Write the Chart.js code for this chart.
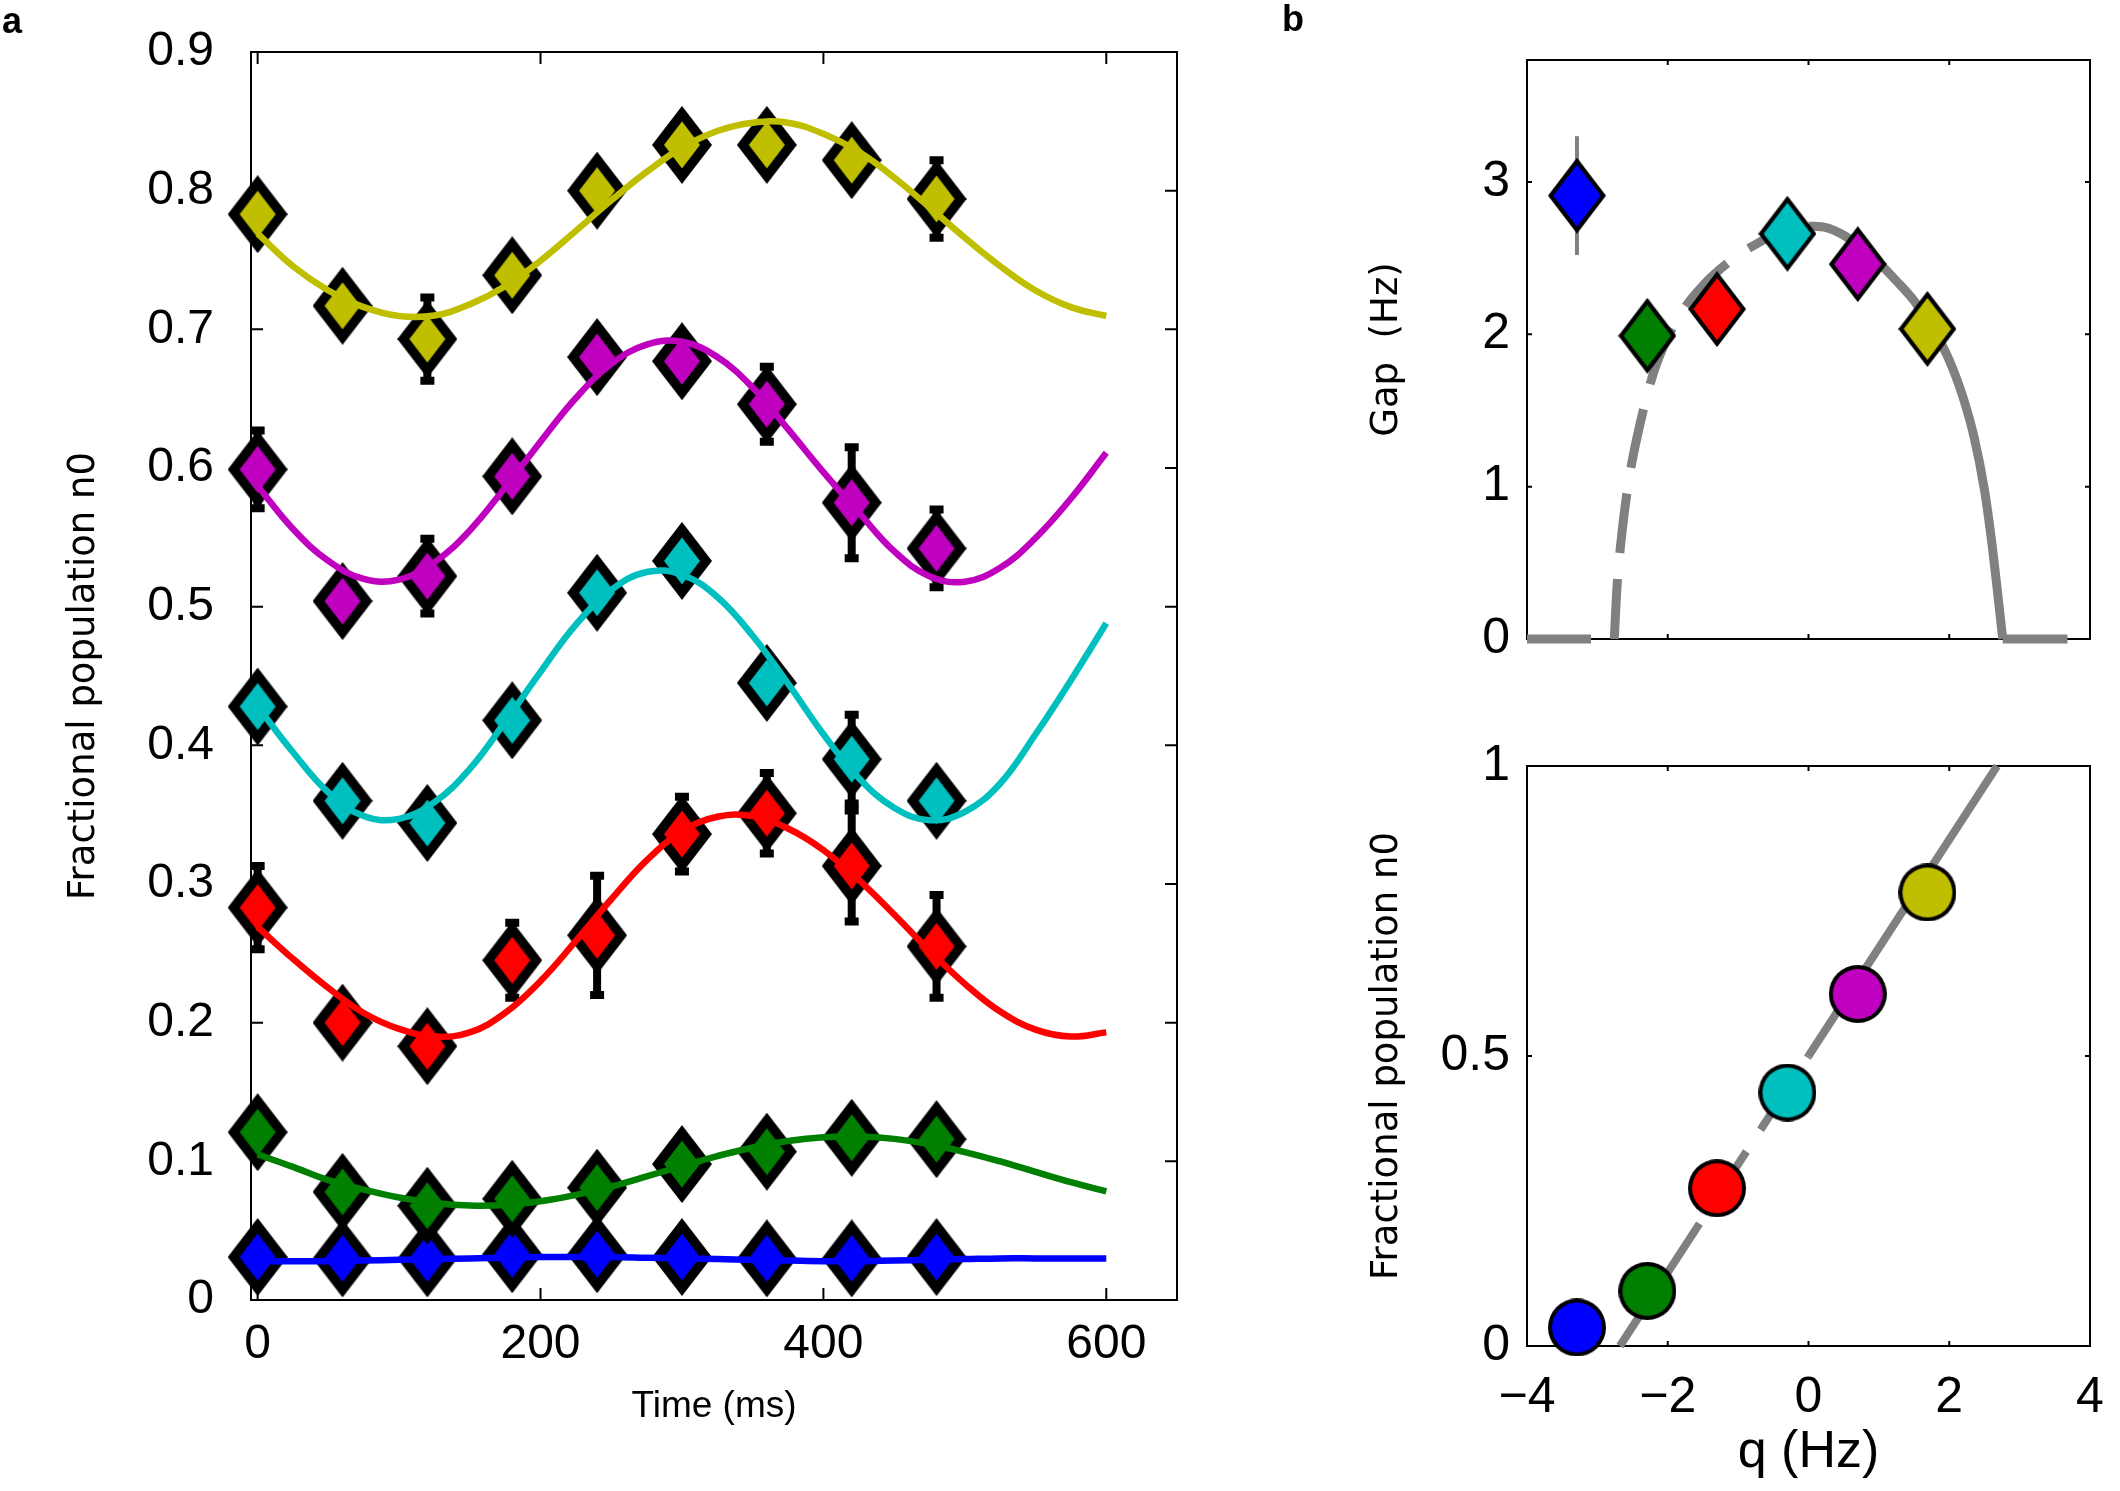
<!DOCTYPE html>
<html><head><meta charset="utf-8">
<script src="https://cdn.jsdelivr.net/npm/chart.js@4.4.1/dist/chart.umd.min.js"></script>
<style>
html,body{margin:0;padding:0;background:#fff;}
#wrap{position:relative;width:2120px;height:1491px;overflow:hidden;background:#fff;}
canvas{position:absolute;}
.lab{position:absolute;font-family:"Liberation Sans",Arial,sans-serif;font-weight:bold;font-size:36px;line-height:1;color:#000;}
</style></head><body>
<div id="wrap">
<canvas id="ca" width="1250" height="1491" style="left:0;top:0"></canvas>
<canvas id="cb1" width="840" height="700" style="left:1280px;top:0"></canvas>
<canvas id="cb2" width="840" height="791" style="left:1280px;top:700px"></canvas>
<div class="lab" style="left:2px;top:3px">a</div>
<div class="lab" style="left:1282px;top:1px">b</div>
</div>
<script>
// ---------- Panel a data ----------
const timeMs = [0, 60, 120, 180, 240, 300, 360, 420, 480];
const n0Yellow  = [0.783, 0.717, 0.693, 0.739, 0.800, 0.833, 0.833, 0.822, 0.794];
const n0Magenta = [0.599, 0.504, 0.522, 0.594, 0.680, 0.677, 0.646, 0.575, 0.542];
const n0Cyan    = [0.428, 0.360, 0.344, 0.418, 0.510, 0.533, 0.445, 0.390, 0.360];
const n0Red     = [0.283, 0.200, 0.183, 0.245, 0.263, 0.336, 0.351, 0.313, 0.255];
const n0Green   = [0.121, 0.078, 0.068, 0.073, 0.081, 0.098, 0.107, 0.117, 0.116];
const n0Blue    = [0.031, 0.030, 0.030, 0.033, 0.033, 0.031, 0.030, 0.030, 0.031];

const errYellow  = [0.015, 0.015, 0.030, 0.015, 0.015, 0.015, 0.015, 0.015, 0.028];
const errMagenta = [0.028, 0.015, 0.027, 0.015, 0.015, 0.015, 0.027, 0.040, 0.028];
const errCyan    = [0.015, 0.015, 0.015, 0.015, 0.015, 0.015, 0.015, 0.032, 0.015];
const errRed     = [0.030, 0.015, 0.015, 0.027, 0.043, 0.027, 0.029, 0.040, 0.037];
const errGreen   = [0.012, 0.012, 0.012, 0.012, 0.012, 0.012, 0.012, 0.012, 0.012];
const errBlue    = [0.008, 0.008, 0.008, 0.008, 0.008, 0.008, 0.008, 0.008, 0.008];

const fitTimeMs = [0, 25, 50, 75, 100, 125, 150, 175, 200, 225, 250, 275, 300, 325, 350, 375, 400, 425, 450, 475, 500, 525, 550, 575, 600];
const fitYellow  = [0.769, 0.7455, 0.728, 0.716, 0.7096, 0.710, 0.718, 0.731, 0.7495, 0.771, 0.793, 0.8135, 0.831, 0.843, 0.849, 0.849, 0.841, 0.828, 0.8095, 0.788, 0.766, 0.7455, 0.728, 0.716, 0.7096];
const fitMagenta = [0.587, 0.556, 0.533, 0.520, 0.5195, 0.532, 0.555, 0.586, 0.619, 0.6505, 0.675, 0.689, 0.691, 0.680, 0.658, 0.628, 0.597, 0.568, 0.540, 0.522, 0.518, 0.528, 0.5495, 0.578, 0.611];
const fitCyan    = [0.428, 0.395, 0.366, 0.349, 0.347, 0.359, 0.383, 0.417, 0.453, 0.487, 0.512, 0.525, 0.523, 0.507, 0.479, 0.4445, 0.408, 0.3765, 0.355, 0.346, 0.352, 0.3725, 0.408, 0.447, 0.488];
const fitRed     = [0.269, 0.246, 0.225, 0.207, 0.1955, 0.190, 0.193, 0.207, 0.230, 0.259, 0.289, 0.317, 0.338, 0.3485, 0.349, 0.340, 0.3245, 0.303, 0.278, 0.252, 0.228, 0.208, 0.195, 0.190, 0.193];
const fitGreen   = [0.105, 0.096, 0.0864, 0.0796, 0.0739, 0.070, 0.0681, 0.0685, 0.0712, 0.0758, 0.0819, 0.0891, 0.0966, 0.1038, 0.110, 0.1147, 0.1174, 0.1179, 0.1162, 0.1123, 0.1067, 0.0999, 0.0924, 0.085, 0.0783];
const fitBlue    = [0.028, 0.028, 0.028, 0.0285, 0.029, 0.0295, 0.030, 0.0305, 0.031, 0.031, 0.031, 0.0305, 0.030, 0.0295, 0.029, 0.0285, 0.028, 0.028, 0.0285, 0.029, 0.0295, 0.030, 0.030, 0.030, 0.030];

const timeTicks = [0, 200, 400, 600];
const timeTickLabels = ['0', '200', '400', '600'];
const n0Ticks = [0, 0.1, 0.2, 0.3, 0.4, 0.5, 0.6, 0.7, 0.8, 0.9];
const n0TickLabels = ['0', '0.1', '0.2', '0.3', '0.4', '0.5', '0.6', '0.7', '0.8', '0.9'];

// ---------- Panel b data ----------
const qHz      = [-3.29, -2.29, -1.30, -0.30, 0.70, 1.69];
const gapHz    = [2.91, 1.99, 2.165, 2.66, 2.46, 2.035];
const gapErrHz = [0.39, 0, 0, 0, 0, 0];
const n0VsQ    = [0.032, 0.095, 0.272, 0.437, 0.607, 0.782];

const gapFlatLeftQ = [-4, -2.76];
const gapFlatLeftV = [0, 0];
const gapRiseQ = [-2.76, -2.72, -2.65, -2.55, -2.4, -2.2, -2.0, -1.75, -1.5, -1.25, -1.0, -0.75, -0.5, -0.25, 0];
const gapRiseV = [0, 0.35, 0.70, 1.05, 1.40, 1.75, 1.98, 2.18, 2.32, 2.43, 2.52, 2.59, 2.65, 2.69, 2.71];
const gapFallQ = [0, 0.25, 0.5, 0.75, 1.0, 1.25, 1.5, 1.75, 2.0, 2.2, 2.35, 2.5, 2.6, 2.7, 2.76];
const gapFallV = [2.71, 2.70, 2.65, 2.57, 2.47, 2.35, 2.22, 2.05, 1.83, 1.58, 1.33, 0.98, 0.65, 0.25, 0];
const gapFlatRightQ = [2.76, 3.68];
const gapFlatRightV = [0, 0];

const n0LineDashQ = [-2.68, 0];
const n0LineDashV = [0, 0.5];
const n0LineSolidQ = [0, 2.68];
const n0LineSolidV = [0.5, 1];

const qTicks = [-4, -2, 0, 2, 4];
const qTickLabels = ['\u22124', '\u22122', '0', '2', '4'];
const gapTicks = [0, 1, 2, 3];
const gapTickLabels = ['0', '1', '2', '3'];
const n0bTicks = [0, 0.5, 1];
const n0bTickLabels = ['0', '0.5', '1'];

const colYellow = '#BFBF00', colMagenta = '#BF00BF', colCyan = '#00BFBF',
      colRed = '#FF0000', colGreen = '#007F00', colBlue = '#0000FF', colGray = '#808080';
const seriesColorsB = [colBlue, colGreen, colRed, colCyan, colMagenta, colYellow];

// ---------- helpers ----------
const pts = (xs, ys) => xs.map((x, i) => ({x: x, y: ys[i]}));

function diamondImg(color, w, h, border) {
  const c = document.createElement('canvas'); c.width = w; c.height = h;
  const g = c.getContext('2d');
  const a = w / 2, b = h / 2, d = Math.hypot(a, b);
  g.fillStyle = '#000';
  g.beginPath(); g.moveTo(a, 0); g.lineTo(w, b); g.lineTo(a, h); g.lineTo(0, b); g.closePath(); g.fill();
  const ai = a - border * d / b, bi = b - border * d / a;
  g.fillStyle = color;
  g.beginPath(); g.moveTo(a, b - bi); g.lineTo(a + ai, b); g.lineTo(a, b + bi); g.lineTo(a - ai, b); g.closePath(); g.fill();
  return c;
}
function circleImg(color, dia, border) {
  const c = document.createElement('canvas'); c.width = dia; c.height = dia;
  const g = c.getContext('2d');
  g.fillStyle = '#000'; g.beginPath(); g.arc(dia / 2, dia / 2, dia / 2, 0, Math.PI * 2); g.fill();
  g.fillStyle = color; g.beginPath(); g.arc(dia / 2, dia / 2, dia / 2 - border, 0, Math.PI * 2); g.fill();
  return c;
}

function makeFrame(tickLen, lw) {
  return {
    id: 'frameTicks',
    beforeDatasetsDraw(chart) {
      const {ctx, chartArea: a, scales} = chart;
      const x = scales.x, y = scales.y;
      ctx.save();
      ctx.strokeStyle = '#000'; ctx.lineWidth = lw; ctx.lineCap = 'butt';
      ctx.strokeRect(a.left, a.top, a.right - a.left, a.bottom - a.top);
      ctx.beginPath();
      x.ticks.forEach(t => {
        const p = x.getPixelForValue(t.value);
        if (p <= a.left + 1 || p >= a.right - 1) return;
        ctx.moveTo(p, a.bottom); ctx.lineTo(p, a.bottom - tickLen);
        ctx.moveTo(p, a.top); ctx.lineTo(p, a.top + tickLen);
      });
      y.ticks.forEach(t => {
        const p = y.getPixelForValue(t.value);
        if (p <= a.top + 1 || p >= a.bottom - 1) return;
        ctx.moveTo(a.left, p); ctx.lineTo(a.left + tickLen, p);
        ctx.moveTo(a.right, p); ctx.lineTo(a.right - tickLen, p);
      });
      ctx.stroke();
      ctx.restore();
    }
  };
}

function makeErrBars(sets, color, lw, cap) {
  return {
    id: 'errBars',
    beforeDatasetsDraw(chart) {
      const {ctx, scales} = chart;
      const x = scales.x, y = scales.y;
      ctx.save();
      ctx.strokeStyle = color; ctx.lineWidth = lw; ctx.lineCap = 'butt';
      sets.forEach(s => s.xs.forEach((xv, i) => {
        const e = s.err[i];
        if (!e) return;
        const px = x.getPixelForValue(xv);
        const p1 = y.getPixelForValue(s.ys[i] - e), p2 = y.getPixelForValue(s.ys[i] + e);
        ctx.beginPath(); ctx.moveTo(px, p1); ctx.lineTo(px, p2);
        if (cap) { ctx.moveTo(px - cap, p1); ctx.lineTo(px + cap, p1); ctx.moveTo(px - cap, p2); ctx.lineTo(px + cap, p2); }
        ctx.stroke();
      }));
      ctx.restore();
    }
  };
}

const tickFamily = '"Liberation Sans", Arial, Helvetica, sans-serif';
const labelFamily = '"DejaVu Sans", Verdana, sans-serif';

function fixedTicks(values) { return s => { s.ticks = values.map(v => ({value: v})); }; }
function labelCb(labels) { return (v, i) => labels[i]; }

Chart.defaults.animation = false;

// ---------- Panel a ----------
function fitDs(xs, ys, color) {
  return {data: pts(xs, ys), showLine: true, borderColor: color, borderWidth: 6.5, pointRadius: 0,
          tension: 0.4, fill: false, order: 0, clip: false};
}
function markDs(xs, ys, img) {
  return {data: pts(xs, ys), showLine: false, pointStyle: img, pointRadius: 30, pointBorderWidth: 0,
          pointBackgroundColor: 'rgba(0,0,0,0)', order: 1, clip: false};
}
const dA = (c) => diamondImg(c, 60, 78, 9.5);

new Chart(document.getElementById('ca'), {
  type: 'scatter',
  data: {datasets: [
    fitDs(fitTimeMs, fitYellow, colYellow),
    fitDs(fitTimeMs, fitMagenta, colMagenta),
    fitDs(fitTimeMs, fitCyan, colCyan),
    fitDs(fitTimeMs, fitRed, colRed),
    fitDs(fitTimeMs, fitGreen, colGreen),
    fitDs(fitTimeMs, fitBlue, colBlue),
    markDs(timeMs, n0Yellow, dA(colYellow)),
    markDs(timeMs, n0Magenta, dA(colMagenta)),
    markDs(timeMs, n0Cyan, dA(colCyan)),
    markDs(timeMs, n0Red, dA(colRed)),
    markDs(timeMs, n0Green, dA(colGreen)),
    markDs(timeMs, n0Blue, dA(colBlue))
  ]},
  options: {
    responsive: false, animation: false, events: [], devicePixelRatio: 1,
    layout: {padding: {left: 0, top: 52, right: 73, bottom: 0}},
    plugins: {legend: {display: false}, tooltip: {enabled: false}},
    scales: {
      x: {type: 'linear', min: -4.7, max: 650,
          grid: {display: false, drawTicks: false}, border: {display: false},
          afterBuildTicks: fixedTicks(timeTicks),
          afterFit: s => { s.height = 191; s.paddingLeft = 0; s.paddingRight = 0; },
          ticks: {font: {family: tickFamily, size: 48}, color: '#000', padding: 16, maxRotation: 0, autoSkip: false,
                  callback: labelCb(timeTickLabels)},
          title: {display: true, text: 'Time (ms)', color: '#000', font: {family: tickFamily, size: 37},
                  padding: {top: 0, bottom: 62}}},
      y: {type: 'linear', min: 0, max: 0.9,
          grid: {display: false, drawTicks: false}, border: {display: false},
          afterBuildTicks: fixedTicks(n0Ticks),
          afterFit: s => { s.width = 251; s.paddingTop = 0; s.paddingBottom = 0; },
          ticks: {font: {family: tickFamily, size: 48}, color: '#000', padding: 37, autoSkip: false,
                  callback: labelCb(n0TickLabels)},
          title: {display: true, text: 'Fractional population n0', color: '#000', font: {family: labelFamily, size: 37},
                  padding: {top: 62, bottom: 0}}}
    }
  },
  plugins: [makeFrame(12, 2), makeErrBars([
    {xs: timeMs, ys: n0Yellow, err: errYellow},
    {xs: timeMs, ys: n0Magenta, err: errMagenta},
    {xs: timeMs, ys: n0Cyan, err: errCyan},
    {xs: timeMs, ys: n0Red, err: errRed},
    {xs: timeMs, ys: n0Green, err: errGreen},
    {xs: timeMs, ys: n0Blue, err: errBlue}
  ], '#000', 8, 7)]
});

// ---------- Panel b (top): gap ----------
const gapLineDs = (xs, ys, dash) => ({data: pts(xs, ys), showLine: true, borderColor: colGray, borderWidth: 9,
  borderDash: dash, pointRadius: 0, cubicInterpolationMode: 'monotone', fill: false, order: 1, clip: false});

new Chart(document.getElementById('cb1'), {
  type: 'scatter',
  data: {datasets: [
    gapLineDs(gapFlatLeftQ, gapFlatLeftV, [64, 26]),
    gapLineDs(gapRiseQ, gapRiseV, [60, 26]),
    gapLineDs(gapFallQ, gapFallV, []),
    gapLineDs(gapFlatRightQ, gapFlatRightV, []),
    {data: pts(qHz, gapHz), showLine: false,
     pointStyle: seriesColorsB.map(c => diamondImg(c, 58, 76, 4.2)),
     pointRadius: 30, pointBorderWidth: 0, pointBackgroundColor: 'rgba(0,0,0,0)', order: 0, clip: false}
  ]},
  options: {
    responsive: false, animation: false, events: [], devicePixelRatio: 1,
    layout: {padding: {left: 0, top: 60, right: 13, bottom: 0}},
    plugins: {legend: {display: false}, tooltip: {enabled: false}},
    scales: {
      x: {type: 'linear', min: -4, max: 4,
          grid: {display: false, drawTicks: false}, border: {display: false},
          afterBuildTicks: fixedTicks(qTicks),
          afterFit: s => { s.height = 61; s.paddingLeft = 0; s.paddingRight = 0; },
          ticks: {display: false}},
      y: {type: 'linear', min: 0, max: 3.8,
          grid: {display: false, drawTicks: false}, border: {display: false},
          afterBuildTicks: fixedTicks(gapTicks),
          afterFit: s => { s.width = 247; s.paddingTop = 0; s.paddingBottom = 0; },
          ticks: {font: {family: tickFamily, size: 50}, color: '#000', padding: 17, autoSkip: false,
                  callback: labelCb(gapTickLabels)},
          title: {display: true, text: 'Gap  (Hz)', color: '#000', font: {family: labelFamily, size: 37},
                  padding: {top: 85, bottom: 0}}}
    }
  },
  plugins: [makeFrame(5, 2), makeErrBars([{xs: qHz, ys: gapHz, err: gapErrHz}], colGray, 4, 0)]
});

// ---------- Panel b (bottom): n0 vs q ----------
const n0LineDs = (xs, ys, dash) => ({data: pts(xs, ys), showLine: true, borderColor: colGray, borderWidth: 8,
  borderDash: dash, pointRadius: 0, tension: 0, fill: false, order: 1, clip: false});

new Chart(document.getElementById('cb2'), {
  type: 'scatter',
  data: {datasets: [
    n0LineDs(n0LineDashQ, n0LineDashV, [60, 26]),
    n0LineDs(n0LineSolidQ, n0LineSolidV, []),
    {data: pts(qHz, n0VsQ), showLine: false,
     pointStyle: seriesColorsB.map(c => circleImg(c, 58, 4)),
     pointRadius: 30, pointBorderWidth: 0, pointBackgroundColor: 'rgba(0,0,0,0)', order: 0, clip: false}
  ]},
  options: {
    responsive: false, animation: false, events: [], devicePixelRatio: 1,
    layout: {padding: {left: 0, top: 66, right: 13, bottom: 0}},
    plugins: {legend: {display: false}, tooltip: {enabled: false}},
    scales: {
      x: {type: 'linear', min: -4, max: 4,
          grid: {display: false, drawTicks: false}, border: {display: false},
          afterBuildTicks: fixedTicks(qTicks),
          afterFit: s => { s.height = 145; s.paddingLeft = 0; s.paddingRight = 0; },
          ticks: {font: {family: tickFamily, size: 50}, color: '#000', padding: 22, maxRotation: 0, autoSkip: false,
                  callback: labelCb(qTickLabels)},
          title: {display: true, text: 'q (Hz)', color: '#000', font: {family: tickFamily, size: 52},
                  padding: {top: 0, bottom: 7}}},
      y: {type: 'linear', min: 0, max: 1,
          grid: {display: false, drawTicks: false}, border: {display: false},
          afterBuildTicks: fixedTicks(n0bTicks),
          afterFit: s => { s.width = 247; s.paddingTop = 0; s.paddingBottom = 0; },
          ticks: {font: {family: tickFamily, size: 50}, color: '#000', padding: 17, autoSkip: false,
                  callback: labelCb(n0bTickLabels)},
          title: {display: true, text: 'Fractional population n0', color: '#000', font: {family: labelFamily, size: 37},
                  padding: {top: 85, bottom: 0}}}
    }
  },
  plugins: [makeFrame(5, 2)]
});
</script>
</body></html>
